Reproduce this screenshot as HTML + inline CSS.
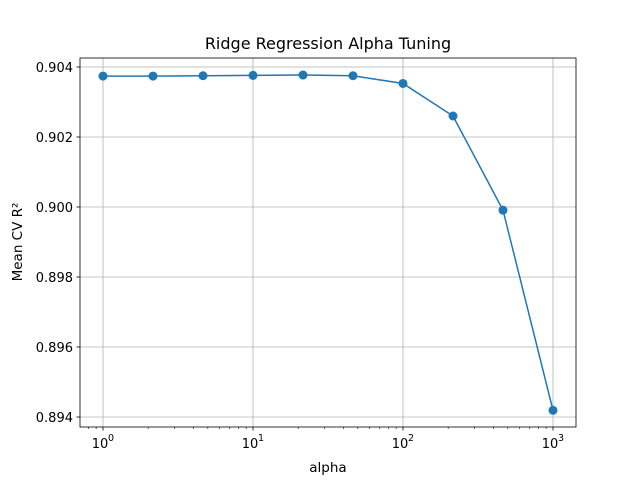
<!DOCTYPE html>
<html><head><meta charset="utf-8"><style>
body{margin:0;background:#fff;}
text{font-family:"DejaVu Sans","Liberation Sans",sans-serif;fill:#000;}
</style></head><body>
<svg id="chart" width="640" height="480" xmlns="http://www.w3.org/2000/svg">
<rect width="640" height="480" fill="#fff"/>
<g id="grid"></g>
<g id="axes"></g>
<g id="series"></g>
<rect x="80" y="58" width="496" height="369" fill="none" stroke="#000" stroke-width="0.8"/>
<text x="328" y="49" text-anchor="middle" font-size="16">Ridge Regression Alpha Tuning</text>
<text x="328" y="472" text-anchor="middle" font-size="13.5">alpha</text>
<text transform="translate(22,242) rotate(-90)" text-anchor="middle" font-size="13.5">Mean CV R²</text>
</svg>
<script>
const alphaExponents=[0,1/3,2/3,1,4/3,5/3,2,7/3,8/3,3];
const meanR2=[0.90374,0.90374,0.90375,0.90376,0.90377,0.90375,0.90353,0.90260,0.89991,0.89419];
const yTicks=[0.894,0.896,0.898,0.900,0.902,0.904];
const yTickLabels=["0.894","0.896","0.898","0.900","0.902","0.904"];
const xTickExps=[0,1,2,3];
const NS="http://www.w3.org/2000/svg";
function xs(e){return 103+e*150;}
function ys(v){return 67+(0.904-v)*35000;}
function mk(tag,attrs,parent){const el=document.createElementNS(NS,tag);for(const k in attrs)el.setAttribute(k,attrs[k]);document.getElementById(parent).appendChild(el);return el;}
yTicks.forEach((v,i)=>{const y=ys(v);
 let g=mk('line',{x1:80,x2:576,y1:y,y2:y,stroke:'#b0b0b0','stroke-width':0.8},'grid');
 
 
 let t=mk('line',{x1:76.5,x2:80,y1:y,y2:y,stroke:'#000','stroke-width':0.8},'axes');
 
 
 let l=mk('text',{x:73,y:y+5,'text-anchor':'end','font-size':13},'axes');l.textContent=yTickLabels[i];
 
 
});
for(let d=-1;d<=3;d++){for(let m=2;m<=9;m++){const x=xs(d+Math.log10(m));if(x<80||x>576)continue;
 let t=mk('line',{x1:x,x2:x,y1:427,y2:429,stroke:'#000','stroke-width':0.6},'axes');
 
 }}
xTickExps.forEach(e=>{const x=xs(e);
 let g=mk('line',{x1:x,x2:x,y1:58,y2:427,stroke:'#b0b0b0','stroke-width':0.8},'grid');
 
 
 let t=mk('line',{x1:x,x2:x,y1:427,y2:430.5,stroke:'#000','stroke-width':0.8},'axes');
 
 
 let l=mk('text',{x:x-3,y:448,'text-anchor':'middle','font-size':13},'axes');l.textContent='10';
 
 
 let s=mk('text',{x:x+5,y:441,'font-size':9.5},'axes');s.textContent=String(e);
 
 
});
const pts=alphaExponents.map((e,i)=>xs(e)+','+ys(meanR2[i])).join(' ');
let pl=mk('polyline',{points:pts,fill:'none',stroke:'#1f77b4','stroke-width':1.5},'series');


alphaExponents.forEach((e,i)=>{let c=mk('circle',{cx:xs(e),cy:ys(meanR2[i]),r:4.5,fill:'#1f77b4'},'series');
 
 });
</script>
</body></html>
